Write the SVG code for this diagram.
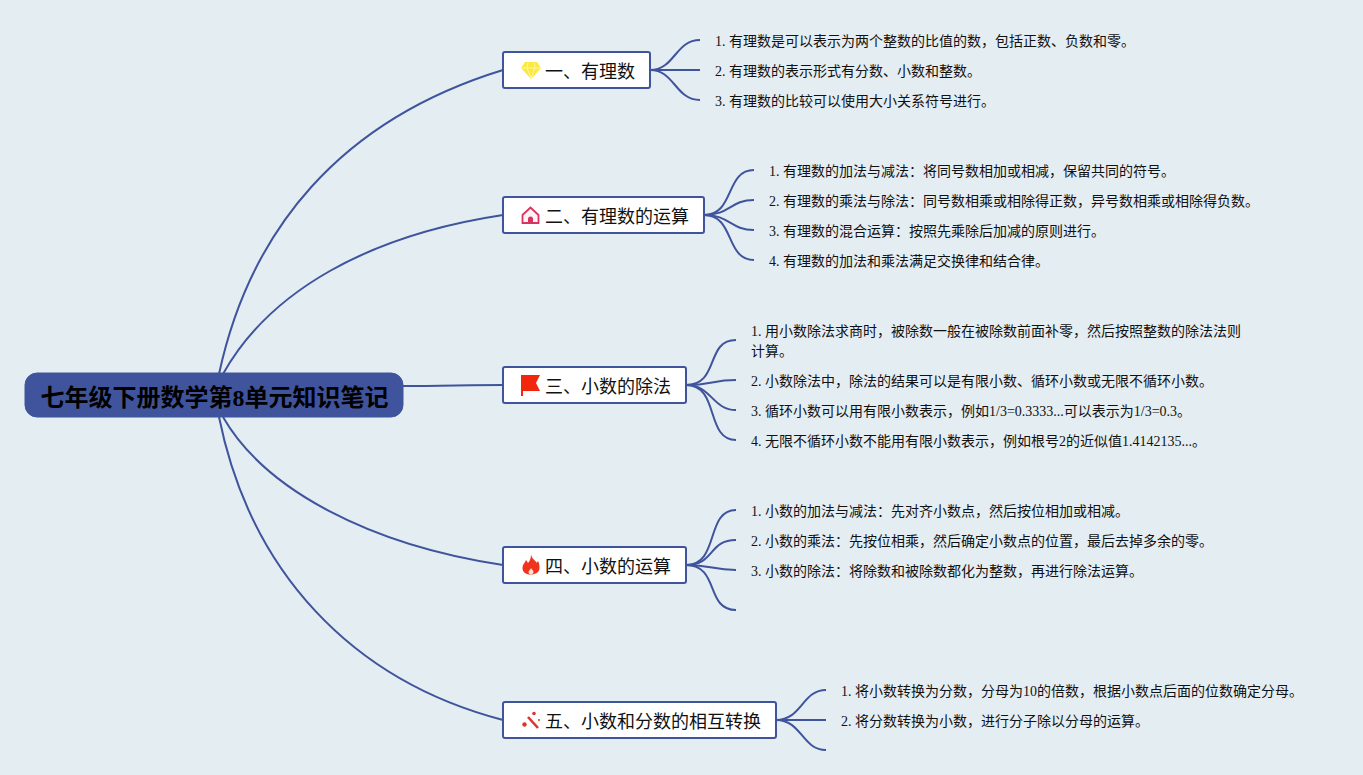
<svg xmlns="http://www.w3.org/2000/svg" width="1363" height="775" viewBox="0 0 1363 775">
<style>
text{font-family:"Liberation Serif","Noto Sans CJK SC",serif;fill:#111}
.root{font-size:24px;font-weight:bold;fill:#000}
.b{font-size:18px}
.l{font-size:14px}
.box{fill:#fff;stroke:#3f549c;stroke-width:2}
#connectors path{fill:none;stroke:#3f549c;stroke-width:2}
</style>
<rect width="1363" height="775" fill="#e4edf2"/>
<g id="connectors">
<path d="M219 374C250 230 340 120 503 70"/>
<path d="M223 374C270 290 370 235 503 215"/>
<path d="M403 386C440 386 470 385 503 385"/>
<path d="M223 417C265 490 370 545 503 565"/>
<path d="M219 417C250 570 350 680 503 720"/>
<path d="M650 70C675 70 675 40 700 40"/>
<path d="M650 70H700"/>
<path d="M650 70C675 70 675 100 700 100"/>
<path d="M704 215C735 215 725 170 754 170"/>
<path d="M704 215C730 215 730 200 754 200"/>
<path d="M704 215C730 215 730 230 754 230"/>
<path d="M704 215C735 215 725 260 754 260"/>
<path d="M686 385C720 385 705 340 736 340"/>
<path d="M686 385C712 385 712 380 736 380"/>
<path d="M686 385C712 385 712 410 736 410"/>
<path d="M686 385C720 385 705 440 736 440"/>
<path d="M686 565C720 565 705 510 736 510"/>
<path d="M686 565C715 565 708 540 736 540"/>
<path d="M686 565C712 565 712 570 736 570"/>
<path d="M686 565C720 565 705 610 736 610"/>
<path d="M776 720C802 720 802 690 826 690"/>
<path d="M776 720H826"/>
<path d="M776 720C802 720 802 750 826 750"/>
</g>
<g id="root"><rect x="25" y="373" width="378" height="44" rx="12" fill="#3f549c" stroke="#3f549c"/><text class="root" x="40.500" y="406">七年级下册数学第8单元知识笔记</text></g>
<g id="n1"><rect class="box" x="503" y="52" width="147" height="36" rx="2"/>
<g transform="translate(521,61)"><path d="M4 1H16L20 7L10 18L0 7Z" fill="#fbe93c"/><path d="M1 7H19M7 1.500L6 7L10 17L14 7L13 1.500" fill="none" stroke="#fff6a8" stroke-width="1"/></g>
<text class="b" x="545" y="78">一、有理数</text></g>
<g id="n2"><rect class="box" x="503" y="197" width="201" height="36" rx="2"/>
<g transform="translate(521,206)"><path d="M1.500 9L9.500 1.500L17.500 9V17H1.500Z" fill="#fdf3f5" stroke="#d9345f" stroke-width="1.800"/><path d="M7 17V13A2.500 2.500 0 0 1 12 13V17Z" fill="#d9345f"/></g>
<text class="b" x="545" y="223">二、有理数的运算</text></g>
<g id="n3"><rect class="box" x="503" y="367" width="183" height="36" rx="2"/>
<g transform="translate(521,375)"><path d="M0 0H19L15 8L19 16H2V21H0Z" fill="#f2260c"/></g>
<text class="b" x="545" y="393">三、小数的除法</text></g>
<g id="n4"><rect class="box" x="503" y="547" width="183" height="36" rx="2"/>
<g transform="translate(521,554)"><path d="M10 0.500C11 5 14 6 16 9C16 8 16.500 7.500 17 7C18.500 10 18.500 12 18.500 14C18.500 18 15 20.500 9.500 20.500C4.500 20.500 1.500 18 1.500 14C1.500 10 4 9 5 6C6 7 6.500 8 7 9C9 7 10 4 10 0.500Z" fill="#f0331a"/><path d="M10 14C10.500 15.500 12.500 16 12.500 18C12.500 19.500 11.300 20.500 10 20.500C8.500 20.500 7.500 19.300 7.500 18C7.500 16.500 9.500 16 10 14Z" fill="#fde0da"/></g>
<text class="b" x="545" y="573">四、小数的运算</text></g>
<g id="n5"><rect class="box" x="503" y="702" width="273" height="36" rx="2"/>
<g id="wand" fill="#d9362c"><path d="M528 717L538 728" stroke="#d9362c" stroke-width="2.600" fill="none"/><circle cx="524.500" cy="724.500" r="2.200"/><circle cx="534" cy="713.500" r="1.800"/><circle cx="539" cy="720" r="1"/></g>
<text class="b" x="545" y="728">五、小数和分数的相互转换</text></g>
<g id="l11"><text class="l" x="715" y="46">1. 有理数是可以表示为两个整数的比值的数，包括正数、负数和零。</text></g>
<g id="l12"><text class="l" x="715" y="76">2. 有理数的表示形式有分数、小数和整数。</text></g>
<g id="l13"><text class="l" x="715" y="106">3. 有理数的比较可以使用大小关系符号进行。</text></g>
<g id="l21"><text class="l" x="769" y="176">1. 有理数的加法与减法：将同号数相加或相减，保留共同的符号。</text></g>
<g id="l22"><text class="l" x="769" y="206">2. 有理数的乘法与除法：同号数相乘或相除得正数，异号数相乘或相除得负数。</text></g>
<g id="l23"><text class="l" x="769" y="236">3. 有理数的混合运算：按照先乘除后加减的原则进行。</text></g>
<g id="l24"><text class="l" x="769" y="266">4. 有理数的加法和乘法满足交换律和结合律。</text></g>
<g id="l31"><text class="l" x="751" y="336">1. 用小数除法求商时，被除数一般在被除数前面补零，然后按照整数的除法法则</text><text class="l" x="751" y="356">计算。</text></g>
<g id="l32"><text class="l" x="751" y="386">2. 小数除法中，除法的结果可以是有限小数、循环小数或无限不循环小数。</text></g>
<g id="l33"><text class="l" x="751" y="416">3. 循环小数可以用有限小数表示，例如1/3=0.3333...可以表示为1/3=0.3。</text></g>
<g id="l34"><text class="l" x="751" y="446">4. 无限不循环小数不能用有限小数表示，例如根号2的近似值1.4142135...。</text></g>
<g id="l41"><text class="l" x="751" y="516">1. 小数的加法与减法：先对齐小数点，然后按位相加或相减。</text></g>
<g id="l42"><text class="l" x="751" y="546">2. 小数的乘法：先按位相乘，然后确定小数点的位置，最后去掉多余的零。</text></g>
<g id="l43"><text class="l" x="751" y="576">3. 小数的除法：将除数和被除数都化为整数，再进行除法运算。</text></g>
<g id="l51"><text class="l" x="841" y="696">1. 将小数转换为分数，分母为10的倍数，根据小数点后面的位数确定分母。</text></g>
<g id="l52"><text class="l" x="841" y="726">2. 将分数转换为小数，进行分子除以分母的运算。</text></g>
</svg>
